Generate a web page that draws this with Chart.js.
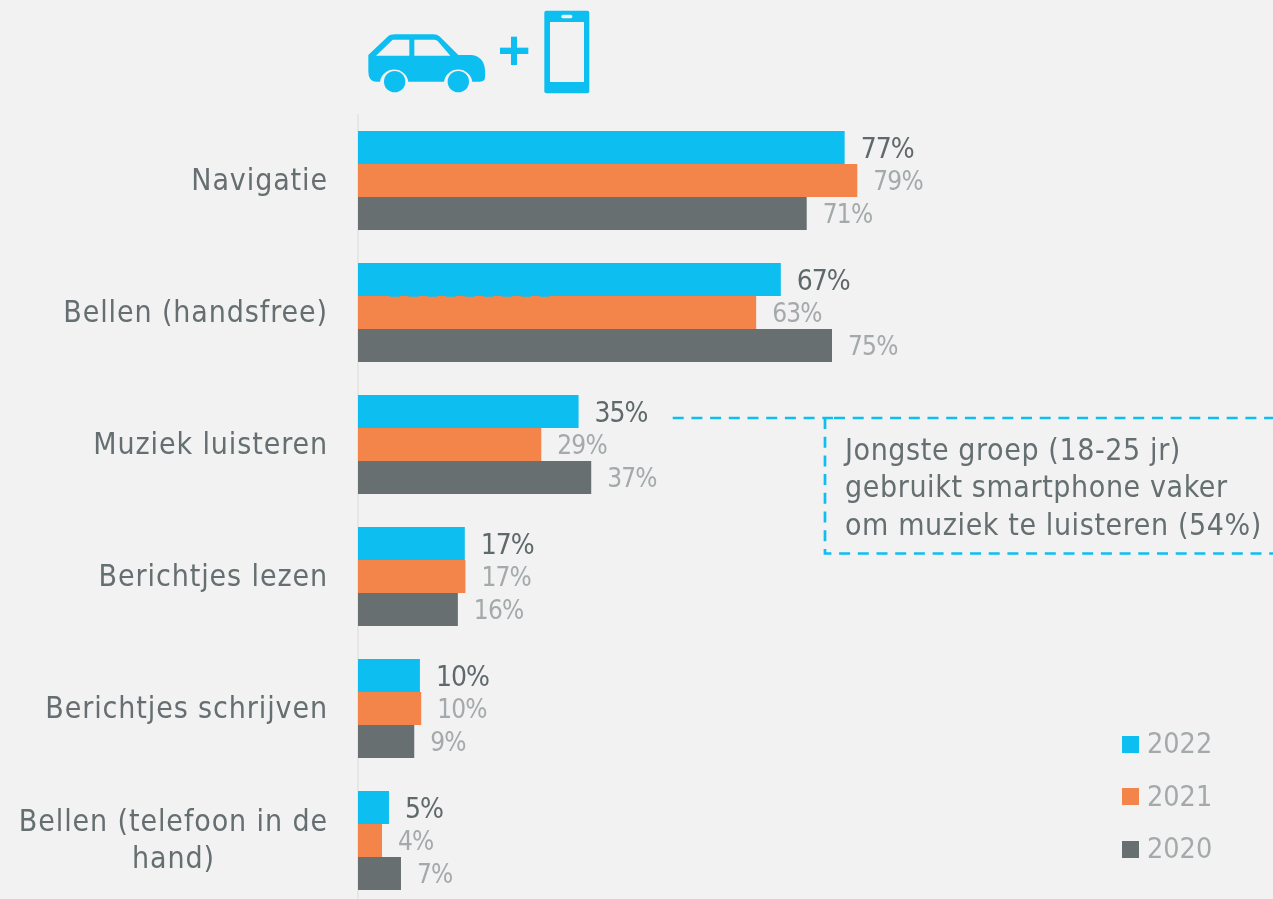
<!DOCTYPE html>
<html>
<head>
<meta charset="utf-8">
<title>Smartphone in de auto</title>
<script src="https://cdn.jsdelivr.net/npm/chart.js@4"></script>
<style>
    html, body { margin: 0; padding: 0; width: 1273px; height: 899px; background: #f2f2f2; overflow: hidden; }
    #chart { position: absolute; left: 0; top: 0; }
    #icons { position: absolute; left: 0; top: 0; }
</style>
</head>
<body>
<canvas id="chart" width="1273" height="907"></canvas>
<svg id="icons" width="640" height="110">
    <g transform="translate(340,0) scale(0.3333)">
        <path fill="#0dbef1" d="M85 165 L145 108 Q150 103 165 103 L280 103 Q292 103 300 110 L355 165 L395 165 Q432 170 435 210 L435 232 Q435 245 420 245 L397 245 A43 43 0 0 0 312 245 L205 245 A43 43 0 0 0 120 245 L110 245 Q85 245 85 215 Z"/>
        <path fill="#f2f2f2" d="M108 167 L158 119 L208 119 L208 167 Z"/>
        <path fill="#f2f2f2" d="M223 119 L283 119 Q290 119 295 125 L331 167 L223 167 Z"/>
        <circle fill="#0dbef1" cx="164" cy="245" r="32"/>
        <circle fill="#0dbef1" cx="355" cy="245" r="32"/>
        <rect fill="#0dbef1" x="513" y="110" width="18" height="85"/>
        <rect fill="#0dbef1" x="480" y="143" width="85" height="19"/>
        <rect fill="#0dbef1" x="613" y="32" width="135" height="248" rx="6"/>
        <rect fill="#f2f2f2" x="630" y="66" width="102" height="180"/>
        <rect fill="#f2f2f2" x="664" y="44" width="33" height="11" rx="5"/>
    </g>
</svg>
<script>
    const categories = [
        "Navigatie",
        "Bellen (handsfree)",
        "Muziek luisteren",
        "Berichtjes lezen",
        "Berichtjes schrijven",
        ["Bellen (telefoon in de", "hand)"]
    ];
    const values2022 = [77, 66.9, 34.9, 16.9, 9.8, 4.9];
    const values2021 = [79, 63, 29, 17, 10, 3.8];
    const values2020 = [71, 75, 36.9, 15.8, 8.9, 6.8];
    const labels2022 = ["77%", "67%", "35%", "17%", "10%", "5%"];
    const labels2021 = ["79%", "63%", "29%", "17%", "10%", "4%"];
    const labels2020 = ["71%", "75%", "37%", "16%", "9%", "7%"];
    const calloutLines = [
        "Jongste groep (18-25 jr)",
        "gebruikt smartphone vaker",
        "om muziek te luisteren (54%)"
    ];

    const BLUE = "#0dbef1";
    const ORANGE = "#f4854a";
    const GREY = "#676f71";
    const TEXT = "#656e70";
    const LIGHT = "#a4a9ab";
    const FONT = "'DejaVu Sans Condensed', 'DejaVu Sans'";

    // labels next to the bars, category names, legend and callout
    const extras = {
        id: "extras",
        afterDatasetsDraw(chart) {
            const ctx = chart.ctx;
            const yScale = chart.scales.y;
            const allLabels = [labels2022, labels2021, labels2020];

            ctx.save();
            ctx.textBaseline = "middle";

            // value labels
            chart.data.datasets.forEach((ds, i) => {
                const meta = chart.getDatasetMeta(i);
                meta.data.forEach((bar, j) => {
                    ctx.font = (i === 0 ? "28px " : "26px ") + FONT;
                    ctx.letterSpacing = i === 0 ? "-1px" : "-0.8px";
                    ctx.textAlign = "left";
                    ctx.fillStyle = i === 0 ? "#5f696b" : LIGHT;
                    ctx.fillText(allLabels[i][j], bar.x + 16, bar.y + 3);
                });
            });
            ctx.letterSpacing = "0px";

            // category names, the two line one is centred like in the original
            ctx.font = "30px " + FONT;
            ctx.letterSpacing = "0.9px";
            ctx.fillStyle = TEXT;
            categories.forEach((cat, i) => {
                const y = yScale.getPixelForTick(i);
                if (Array.isArray(cat)) {
                    ctx.textAlign = "center";
                    const w = ctx.measureText(cat[0]).width;
                    ctx.fillText(cat[0], 328 - w / 2, y - 17);
                    ctx.fillText(cat[1], 328 - w / 2, y + 20);
                } else {
                    ctx.textAlign = "right";
                    ctx.fillText(cat, 328, y + 2);
                }
            });
            ctx.letterSpacing = "0px";

            // legend
            const legendY = [746, 799, 851];
            const squareY = [744.5, 796.5, 849.5];
            chart.data.datasets.forEach((ds, i) => {
                ctx.fillStyle = ds.backgroundColor;
                ctx.fillRect(1122, squareY[i] - 8.5, 17, 17);
                ctx.font = "28.5px " + FONT;
                ctx.textAlign = "left";
                ctx.fillStyle = LIGHT;
                ctx.fillText(ds.label, 1147, legendY[i]);
            });

            // dashed callout
            ctx.strokeStyle = BLUE;
            ctx.lineWidth = 2.7;
            ctx.setLineDash([11, 7.7]);
            ctx.beginPath();
            ctx.moveTo(672.7, 418);
            ctx.lineTo(833, 418);
            ctx.moveTo(834, 418);
            ctx.lineTo(1273, 418);
            ctx.moveTo(825, 418);
            ctx.lineTo(825, 553.5);
            ctx.lineTo(1273, 553.5);
            ctx.stroke();

            // the stray dashes under the second blue bar
            ctx.lineWidth = 1.5;
            ctx.setLineDash([10, 8.7]);
            ctx.beginPath();
            ctx.moveTo(390, 296);
            ctx.lineTo(552, 296);
            ctx.stroke();
            ctx.setLineDash([]);

            ctx.font = "30px " + FONT;
            ctx.letterSpacing = "0.6px";
            ctx.textAlign = "left";
            ctx.fillStyle = TEXT;
            calloutLines.forEach((line, i) => {
                ctx.fillText(line, 845, 452 + i * 37.5);
            });
            ctx.restore();
        }
    };

    new Chart(document.getElementById("chart"), {
        type: "bar",
        data: {
            labels: categories,
            datasets: [
                { label: "2022", data: values2022, backgroundColor: BLUE },
                { label: "2021", data: values2021, backgroundColor: ORANGE },
                { label: "2020", data: values2020, backgroundColor: GREY }
            ]
        },
        options: {
            indexAxis: "y",
            responsive: false,
            animation: false,
            layout: { padding: { left: 358, right: 283, top: 114.5, bottom: 0.5 } },
            datasets: { bar: { barPercentage: 1, categoryPercentage: 0.75 } },
            scales: {
                x: { display: false, min: 0, max: 100 },
                y: {
                    afterFit(scale) { scale.width = 0; },
                    grid: { display: false, drawTicks: false },
                    border: { display: true, color: "#e6e6e6", width: 2 },
                    ticks: { display: false }
                }
            },
            plugins: {
                legend: { display: false },
                tooltip: { enabled: false }
            }
        },
        plugins: [extras]
    });
</script>
</body>
</html>
